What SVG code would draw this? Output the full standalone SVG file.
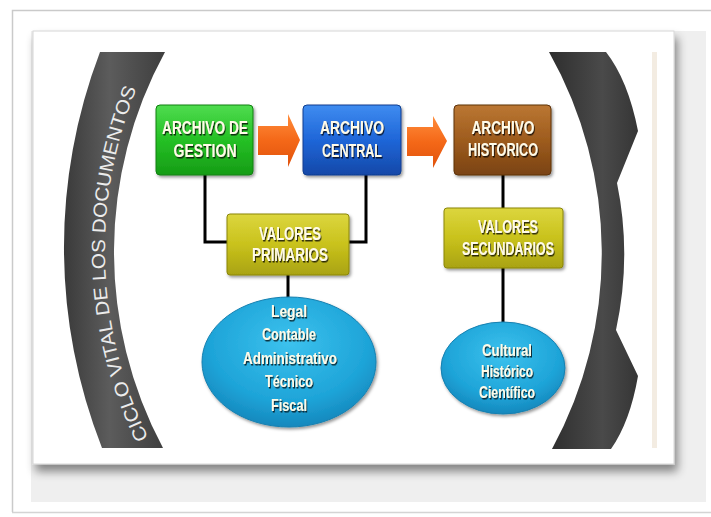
<svg xmlns="http://www.w3.org/2000/svg" width="711" height="517" viewBox="0 0 711 517">
<defs>
<linearGradient id="gGreen" x1="0" y1="0" x2="0" y2="1"><stop offset="0" stop-color="#4fdc4f"/><stop offset="0.5" stop-color="#25c025"/><stop offset="1" stop-color="#169c16"/></linearGradient>
<linearGradient id="gBlue" x1="0" y1="0" x2="0" y2="1"><stop offset="0" stop-color="#3f8cf0"/><stop offset="0.5" stop-color="#1f66d8"/><stop offset="1" stop-color="#1548a8"/></linearGradient>
<linearGradient id="gBrown" x1="0" y1="0" x2="0" y2="1"><stop offset="0" stop-color="#bb7733"/><stop offset="0.5" stop-color="#9e5c1e"/><stop offset="1" stop-color="#7a4312"/></linearGradient>
<linearGradient id="gYellow" x1="0" y1="0" x2="0" y2="1"><stop offset="0" stop-color="#dcd63e"/><stop offset="0.5" stop-color="#c9c21c"/><stop offset="1" stop-color="#a9a311"/></linearGradient>
<radialGradient id="gCyan" cx="0.5" cy="0.35" r="0.65"><stop offset="0" stop-color="#3cc2ee"/><stop offset="0.7" stop-color="#1ea4d8"/><stop offset="1" stop-color="#1588bd"/></radialGradient>
<linearGradient id="gOrange" x1="0" y1="0" x2="0" y2="1"><stop offset="0" stop-color="#ff8d3c"/><stop offset="0.5" stop-color="#f46818"/><stop offset="1" stop-color="#e0520c"/></linearGradient>
<linearGradient id="gBandL" x1="0" y1="0" x2="1" y2="0"><stop offset="0" stop-color="#3a3a3a"/><stop offset="0.45" stop-color="#5c5c5c"/><stop offset="1" stop-color="#3e3e3e"/></linearGradient>
<linearGradient id="gBandR" x1="0" y1="0" x2="1" y2="0"><stop offset="0" stop-color="#2e2e2e"/><stop offset="0.6" stop-color="#4a4a4a"/><stop offset="1" stop-color="#353535"/></linearGradient>
<filter id="card" x="-5%" y="-5%" width="112%" height="115%"><feDropShadow dx="3" dy="7" stdDeviation="5" flood-color="#000" flood-opacity="0.45"/></filter>
<filter id="box" x="-10%" y="-10%" width="125%" height="130%"><feDropShadow dx="1.5" dy="2" stdDeviation="1.5" flood-color="#000" flood-opacity="0.4"/></filter>
<filter id="ts" x="-10%" y="-20%" width="125%" height="150%"><feDropShadow dx="1" dy="1.5" stdDeviation="0.7" flood-color="#000" flood-opacity="0.75"/></filter>
<path id="arcText" d="M148.6,438 A427,427 0 0 1 141.2,78"/>
</defs>
<style>
.lbl{font-family:"Liberation Sans",Arial,sans-serif;font-weight:bold;fill:#fffbe8;text-anchor:middle;filter:url(#ts);lengthAdjust:spacingAndGlyphs}
.big{font-size:18px}
.small{font-size:17px}
.edge{stroke-width:1}
.conn{stroke:#000;stroke-width:3;fill:none}
.band{font-family:"Liberation Sans",Arial,sans-serif;font-size:19px;fill:#ececec}
</style>
<rect x="0" y="0" width="711" height="517" fill="#ffffff"/>
<path d="M12.5,512 L12.5,10.5 L711,10.5" fill="none" stroke="#cacaca" stroke-width="1.5"/>
<line x1="12" y1="512.5" x2="711" y2="512.5" stroke="#d4d4d4" stroke-width="1.5"/>
<rect x="31" y="31" width="675" height="471" fill="#efefef"/>
<rect x="33" y="31" width="641" height="433" fill="#ffffff" stroke="#d6d6d6" stroke-width="1" filter="url(#card)"/>
<rect x="652" y="52" width="5" height="396" fill="#f3ece2"/>

<g id="band-left">
<path d="M100,52 L165,52 A417,417 0 0 0 163,448 L102,448 A548,548 0 0 1 100,52 Z" fill="url(#gBandL)"/>
<text class="band"><textPath href="#arcText" textLength="360" lengthAdjust="spacingAndGlyphs">CICLO VITAL DE LOS DOCUMENTOS</textPath></text>
</g>
<g id="band-right">
<path d="M549,52 L606,52 Q628,80 638,131 L617,183 Q632,256 616,330 L638,376 Q630,422 611,449 L552,449 A410,410 0 0 0 549,52 Z" fill="url(#gBandR)"/>
</g>

<g id="connectors">
<polyline class="conn" points="205,175 205,242 228,242"/>
<polyline class="conn" points="366,175 366,242 348,242"/>
<line class="conn" x1="288" y1="274" x2="288" y2="299"/>
<line class="conn" x1="503" y1="175" x2="503" y2="209"/>
<line class="conn" x1="503" y1="267" x2="503" y2="323"/>
<polygon points="258,126 288,126 288,114 300,140 288,167 288,155 258,155" fill="url(#gOrange)"/>
<polygon points="407,127 433,127 433,116 447,141 433,168 433,156 407,156" fill="url(#gOrange)"/>
</g>

<g id="n-gestion" filter="url(#box)">
<rect x="156" y="105" width="97" height="70" rx="4" fill="url(#gGreen)" stroke="#10800f" class="edge"/>
<text class="lbl big" x="205" y="134" textLength="86" lengthAdjust="spacingAndGlyphs">ARCHIVO DE</text>
<text class="lbl big" x="205" y="157" textLength="63" lengthAdjust="spacingAndGlyphs">GESTION</text>
</g>
<g id="n-central" filter="url(#box)">
<rect x="303" y="105" width="98" height="70" rx="4" fill="url(#gBlue)" stroke="#0e3c8f" class="edge"/>
<text class="lbl big" x="352" y="134" textLength="64" lengthAdjust="spacingAndGlyphs">ARCHIVO</text>
<text class="lbl big" x="352" y="157" textLength="60" lengthAdjust="spacingAndGlyphs">CENTRAL</text>
</g>
<g id="n-historico" filter="url(#box)">
<rect x="454" y="105" width="97" height="70" rx="4" fill="url(#gBrown)" stroke="#5e320c" class="edge"/>
<text class="lbl big" x="503" y="134" textLength="63" lengthAdjust="spacingAndGlyphs">ARCHIVO</text>
<text class="lbl big" x="503" y="156" textLength="70" lengthAdjust="spacingAndGlyphs">HISTORICO</text>
</g>
<g id="n-primarios" filter="url(#box)">
<rect x="227" y="214" width="122" height="61" rx="3" fill="url(#gYellow)" stroke="#8a850c" class="edge"/>
<text class="lbl big" x="290" y="240" textLength="62" lengthAdjust="spacingAndGlyphs">VALORES</text>
<text class="lbl big" x="290" y="261" textLength="76" lengthAdjust="spacingAndGlyphs">PRIMARIOS</text>
</g>
<g id="n-secundarios" filter="url(#box)">
<rect x="444" y="208" width="119" height="60" rx="3" fill="url(#gYellow)" stroke="#8a850c" class="edge"/>
<text class="lbl big" x="508" y="233" textLength="60" lengthAdjust="spacingAndGlyphs">VALORES</text>
<text class="lbl big" x="508" y="255" textLength="92" lengthAdjust="spacingAndGlyphs">SECUNDARIOS</text>
</g>
<g id="n-tipos-primarios" filter="url(#box)">
<ellipse cx="289" cy="362" rx="87" ry="65" fill="url(#gCyan)" stroke="#1580b0" class="edge"/>
<text class="lbl small" x="289" y="317" textLength="36" lengthAdjust="spacingAndGlyphs">Legal</text>
<text class="lbl small" x="289" y="340" textLength="54" lengthAdjust="spacingAndGlyphs">Contable</text>
<text class="lbl small" x="290" y="364" textLength="94" lengthAdjust="spacingAndGlyphs">Administrativo</text>
<text class="lbl small" x="289" y="387" textLength="48" lengthAdjust="spacingAndGlyphs">Técnico</text>
<text class="lbl small" x="289" y="411" textLength="36" lengthAdjust="spacingAndGlyphs">Fiscal</text>
</g>
<g id="n-tipos-secundarios" filter="url(#box)">
<ellipse cx="503" cy="368" rx="62" ry="46" fill="url(#gCyan)" stroke="#1580b0" class="edge"/>
<text class="lbl small" x="507" y="356" textLength="50" lengthAdjust="spacingAndGlyphs">Cultural</text>
<text class="lbl small" x="507" y="377" textLength="52" lengthAdjust="spacingAndGlyphs">Histórico</text>
<text class="lbl small" x="507" y="398" textLength="56" lengthAdjust="spacingAndGlyphs">Científico</text>
</g>
</svg>
